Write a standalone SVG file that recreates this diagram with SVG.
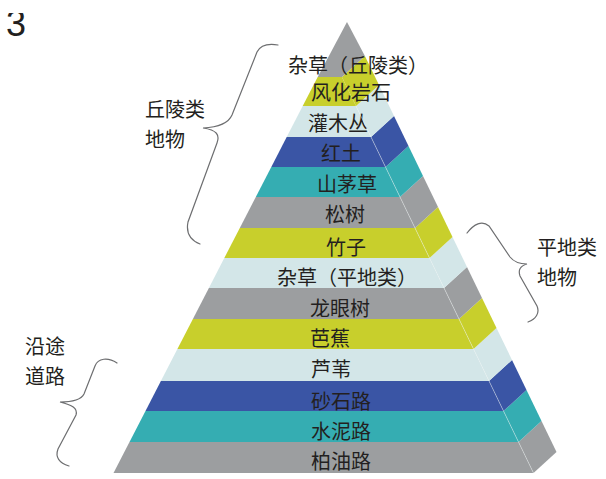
<svg xmlns="http://www.w3.org/2000/svg" width="606" height="479" viewBox="0 0 606 479">
<style>
.g{fill:#9c9ea0}.y{fill:#c8cf2c}.l{fill:#d3e6e8}.b{fill:#3a55a5}.t{fill:#35adb2}
.tx{font-family:"Noto Sans CJK SC","Noto Sans",sans-serif;font-size:20px;fill:#231f20;text-anchor:middle}
.lb{font-family:"Noto Sans CJK SC","Noto Sans",sans-serif;font-size:20px;fill:#231f20}
.br{fill:none;stroke:#6d6e70;stroke-width:1.2;stroke-linecap:round}
.hl{stroke:#eef3f4;stroke-width:0.7;opacity:0.6}
</style>
<rect width="606" height="479" fill="#ffffff"/>
<text x="6" y="36" font-family="Liberation Sans, sans-serif" font-size="36" fill="#231f20">3</text>
<rect x="0" y="0" width="606" height="13" fill="#ffffff"/>

<g id="layer14"><polygon class="g" points="129.5,442 518.5,442 533.5,473 113.5,473"/><polygon class="g" points="518.5,442 541.5,421 556.5,452 533.5,473"/><text class="tx" x="341" y="469">柏油路</text></g>
<g id="layer13"><polygon class="t" points="145.5,411 503.5,411 518.5,442 129.5,442"/><polygon class="t" points="503.5,411 526.5,390 541.5,421 518.5,442"/><text class="tx" x="341" y="439">水泥路</text></g>
<g id="layer12"><polygon class="b" points="160.9,381 489,381 503.5,411 145.5,411"/><polygon class="b" points="489,381 512,360 526.5,390 503.5,411"/><text class="tx" x="341" y="409">砂石路</text></g>
<g id="layer11"><polygon class="l" points="177.4,349 473.5,349 489,381 160.9,381"/><polygon class="l" points="473.5,349 496.5,328 512,360 489,381"/><text class="tx" x="331" y="377">芦苇</text></g>
<g id="layer10"><polygon class="y" points="192.9,319 459,319 473.5,349 177.4,349"/><polygon class="y" points="459,319 482,298 496.5,328 473.5,349"/><text class="tx" x="330" y="346">芭蕉</text></g>
<g id="layer9"><polygon class="g" points="208.9,288 444,288 459,319 192.9,319"/><polygon class="g" points="444,288 467,267 482,298 459,319"/><text class="tx" x="340" y="316">龙眼树</text></g>
<g id="layer8"><polygon class="l" points="224.3,258 429.5,258 444,288 208.9,288"/><polygon class="l" points="429.5,258 452.5,237 467,267 444,288"/><text class="tx" x="347" y="285">杂草（平地类）</text></g>
<g id="layer7"><polygon class="y" points="239.8,228 415,228 429.5,258 224.3,258"/><polygon class="y" points="415,228 438,207 452.5,237 429.5,258"/><text class="tx" x="346" y="255">竹子</text></g>
<g id="layer6"><polygon class="g" points="255.8,197 400,197 415,228 239.8,228"/><polygon class="g" points="400,197 423,176 438,207 415,228"/><text class="tx" x="345" y="222">松树</text></g>
<g id="layer5"><polygon class="t" points="271.3,167 385.5,167 400,197 255.8,197"/><polygon class="t" points="385.5,167 408.5,146 423,176 400,197"/><text class="tx" x="347" y="192">山茅草</text></g>
<g id="layer4"><polygon class="b" points="286.7,137 371,137 385.5,167 271.3,167"/><polygon class="b" points="371,137 394,116 408.5,146 385.5,167"/><text class="tx" x="341" y="161">红土</text></g>
<g id="layer3"><polygon class="l" points="302.7,106 356,106 371,137 286.7,137"/><polygon class="l" points="356,106 379,85 394,116 371,137"/><text class="tx" x="338" y="131">灌木丛</text></g>
<g id="layer2"><polygon class="y" points="317.7,77 341.9,77 356,106 302.7,106"/><polygon class="y" points="341.9,77 364.9,56 379,85 356,106"/><text class="tx" x="351" y="100">风化岩石</text></g>
<g id="layer1"><polygon class="g" points="347,22 364.9,56 341.9,77 317.7,77"/><text class="tx" x="358" y="73">杂草（丘陵类）</text></g>
<line class="hl" x1="356" y1="106" x2="533.5" y2="473"/>

<g id="label-hill"><text class="lb" x="145" y="117">丘陵类</text><text class="lb" x="145" y="147">地物</text></g>
<g id="label-flat"><text class="lb" x="537" y="255">平地类</text><text class="lb" x="537" y="285">地物</text></g>
<g id="label-road"><text class="lb" x="25" y="354">沿途</text><text class="lb" x="25" y="384">道路</text></g>

<g id="connectors">
<path class="br" d="M278,45 C266,43 260,46 257,52 L232,115 C229,122 222,127 203,128 C217,130 220,135 217,143 L188,222 C186,232 190,240 200,244"/>
<path class="br" d="M467,233 C474,224 482,220 489,226 L510,257 C514,262 519,264 527,264 C520,266 518,270 520,276 L537,306 C540,313 536,319 528,322"/>
<path class="br" d="M117,363 C108,357 98,358 95,366 L84,394 C81,400 72,402 60,402 C72,405 78,408 76,415 L58,449 C55,457 59,463 69,466"/>
</g>
</svg>
